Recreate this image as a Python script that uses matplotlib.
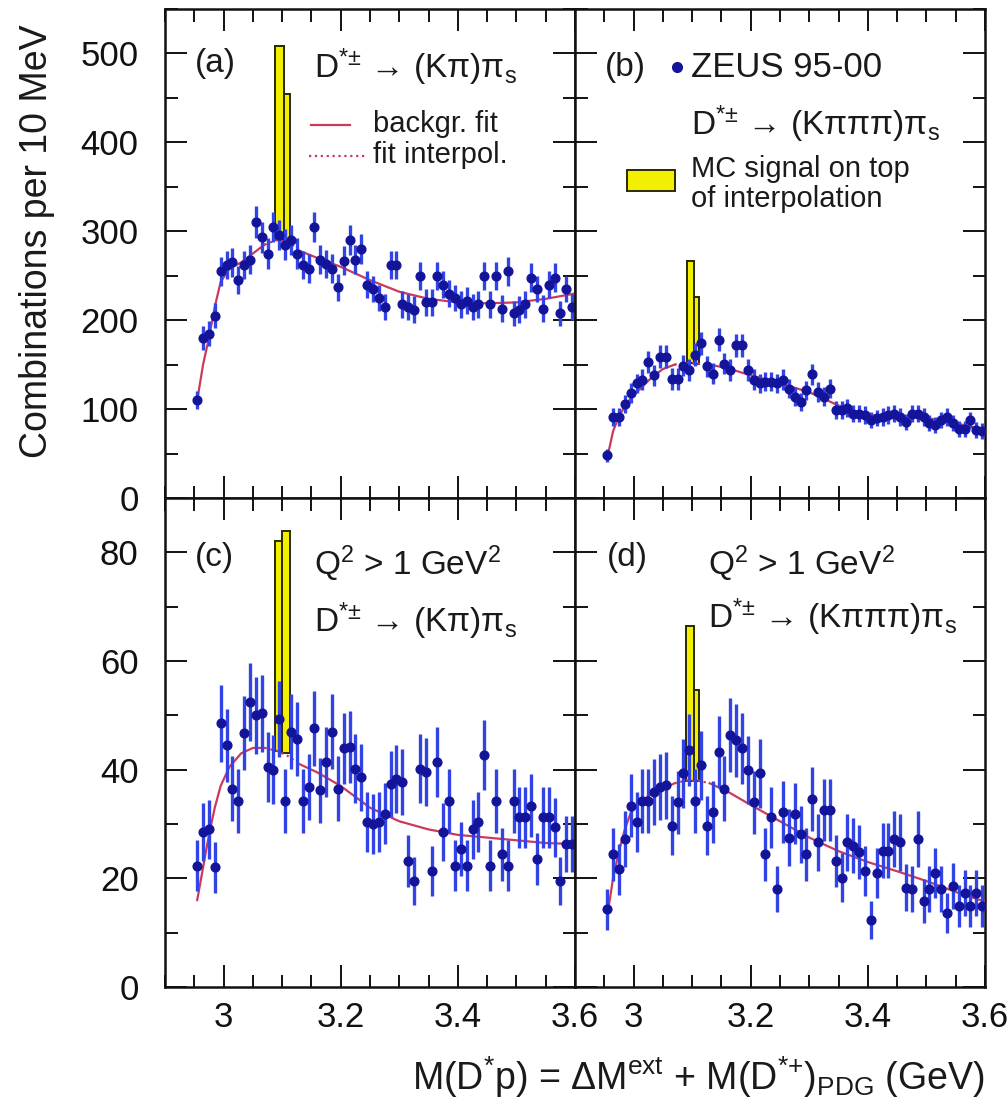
import numpy as np
import matplotlib
matplotlib.use("Agg")
import matplotlib.pyplot as plt
from matplotlib.ticker import MultipleLocator, FixedLocator, FixedFormatter
from matplotlib.patches import Rectangle
from matplotlib.lines import Line2D

plt.rcParams['font.family'] = ['Liberation Sans', 'DejaVu Sans']
plt.rcParams['mathtext.fontset'] = 'custom'
plt.rcParams['mathtext.rm'] = 'Liberation Sans'
plt.rcParams['mathtext.it'] = 'Liberation Sans:italic'
plt.rcParams['mathtext.bf'] = 'Liberation Sans:bold'

# ---------------- data ----------------
mass = np.round(np.arange(2.955, 3.6, 0.01), 3)   # bin centres (10 MeV bins)

val_a = [110,180,185,205,255,262,265,245,262,268, 310,293,275,305,296,285,290,275,262,258,
         305,268,263,258,237,267,290,268,280,240, 235,225,215,262,262,218,215,212,250,220,
         220,250,240,230,225,218,222,215,218,250, 218,250,213,255,208,212,218,248,235,213,
         240,248,208,235,215]
err_a = [10,13,14,14,16,16,16,16,16,16, 18,17,17,17,17,17,17,17,16,16,
         17,16,16,16,15,16,17,16,17,15, 15,15,15,16,16,15,15,15,16,15,
         15,16,15,15,15,15,15,15,15,16, 15,16,15,16,14,15,15,16,15,15,
         15,16,14,15,15]

val_b = [48,91,91,106,118,129,133,153,138,159, 159,134,134,149,144,161,174,148,140,178,
         151,144,172,172,144,133,129,131,131,129, 133,123,114,108,121,139,119,114,123,99,
         99,101,95,95,93,88,90,91,93,95, 91,86,95,95,91,84,82,88,91,84,
         78,78,88,76,75]
err_b = [7,10,10,10,11,11,12,12,12,13, 13,12,12,12,12,13,13,12,12,13,
         12,12,13,13,12,12,11,11,11,11, 12,11,11,10,11,12,11,11,11,10,
         10,10,10,10,10,9,9,10,10,10, 10,9,10,10,10,9,9,9,10,9,
         9,9,9,9,9]

val_c = [22.3,28.5,29,22,48.5,44.5,36.5,34.3,46.7,52.5, 50,50.4,40.5,40,49.4,34.3,47,45.7,34.3,36.8,
         47.6,36.2,41.4,47,36.5,43.9,44.2,40.2,38.6,30.3, 30,30.3,31.9,37.4,38.3,37.7,23.2,19.5,40.2,39.6,
         21.4,41.4,28.5,34.3,22.3,25.4,22.3,29,30.3,42.7, 22.3,34.3,24.4,22.3,34.3,31.2,31.2,33.4,23.5,31.2,
         31.2,29.4,19.5,26.3,26.3]
err_c = [4.7,5.3,5.4,4.7,7.0,6.7,6.0,5.9,6.8,7.2, 7.1,7.1,6.4,6.3,7.0,5.9,6.9,6.8,5.9,6.1,
         6.9,6.0,6.4,6.9,6.0,6.6,6.6,6.3,6.2,5.5, 5.5,5.5,5.6,6.1,6.2,6.1,4.8,4.4,6.3,6.3,
         4.6,6.4,5.3,5.9,4.7,5.0,4.7,5.4,5.5,6.5, 4.7,5.9,4.9,4.7,5.9,5.6,5.6,5.8,4.8,5.6,
         5.6,5.4,4.4,5.1,5.1]

val_d = [14.3,24.4,21.7,27.2,33.4,30.3,34.3,34.3,35.9,36.8, 37.1,29.7,34,39.3,43.6,34.3,40.8,29.7,32.2,43.3,
         36.5,46.4,45.4,43.9,39.9,34,39.3,24.4,31.2,18, 32.2,27.5,31.9,28.1,24.4,34.6,26.6,32.5,32.5,23.2,
         20.1,26.6,26,24.8,21.4,12.4,21,25.1,25.1,27.2, 26.6,18.3,18,27.2,15.8,18,21,18,13.6,18.6,
         14.9,17.3,14.9,17.3,14.9]
err_d = [3.8,4.9,4.7,5.2,5.8,5.5,5.9,5.9,6.0,6.1, 6.1,5.4,5.8,6.3,6.6,5.9,6.4,5.4,5.7,6.6,
         6.0,6.8,6.7,6.6,6.3,5.8,6.3,4.9,5.6,4.2, 5.7,5.2,5.6,5.3,4.9,5.9,5.2,5.7,5.7,4.8,
         4.5,5.2,5.1,5.0,4.6,3.5,4.6,5.0,5.0,5.2, 5.2,4.3,4.2,5.2,4.0,4.2,4.6,4.2,3.7,4.3,
         3.9,4.2,3.9,4.2,3.9]

# background fit curves (read at nodes)
fit_x = [2.955,2.965,2.975,2.985,2.995,3.01,3.03,3.05,3.07,3.09,3.11,3.13,3.16,3.2,
         3.25,3.3,3.35,3.4,3.45,3.5,3.55,3.6]
fit_a = [110,150,180,215,243,258,265,275,285,290,288,278,270,260,245,232,224,220,219,220,224,230]
fit_b = [45,75,92,103,112,122,135,145,150,152,151,150,146,138,129,119,104,93,93,90,84,77]
fit_c = [16,22,28,33,37,40.5,43,44,44,43.5,42.5,41,39.5,37,33,30.5,29,28,27.5,27,26.5,26.3]
fit_d = [13,20,25,29,32,34,35.5,36.5,37.5,38,38,37.5,36,33.5,30.5,27.5,25,23,21.3,19.5,17.5,15.7]
interp_lo, interp_hi = 3.07, 3.13   # fit interpolation region

# MC signal histograms on top of interpolation
mc_edges_a = [3.088, 3.103, 3.113]; mc_top_a = [508, 454];   mc_base_a = [290, 289]
mc_edges_b = [3.091, 3.103, 3.111]; mc_top_b = [267, 226];   mc_base_b = [152, 151]
mc_edges_c = [3.088, 3.100, 3.113]; mc_top_c = [82, 84];     mc_base_c = [43.5, 43]
mc_edges_d = [3.089, 3.103, 3.111]; mc_top_d = [66.5, 54.6]; mc_base_d = [38, 38]

panels = [
    dict(val=val_a, err=err_a, fit=fit_a, mce=mc_edges_a, mct=mc_top_a, mcb=mc_base_a),
    dict(val=val_b, err=err_b, fit=fit_b, mce=mc_edges_b, mct=mc_top_b, mcb=mc_base_b),
    dict(val=val_c, err=err_c, fit=fit_c, mce=mc_edges_c, mct=mc_top_c, mcb=mc_base_c),
    dict(val=val_d, err=err_d, fit=fit_d, mce=mc_edges_d, mct=mc_top_d, mcb=mc_base_d),
]

# ---------------- figure ----------------
fig = plt.figure(figsize=(10.08, 11.06), dpi=100)
L, R = 165/1008, 985/1008
W = (R - L) / 2
B, T, M = 1 - 987/1106, 1 - 9/1106, 1 - 498/1106
H = T - M
rects = [(L, M, W, H), (L + W, M, W, H), (L, B, W, M - B), (L + W, B, W, M - B)]

fit_col = '#cc3a5a'
pt_col = '#14149a'
err_col = '#3344e6'
yellow = '#f2f000'

axes = []
for i, (rect, p) in enumerate(zip(rects, panels)):
    ax = fig.add_axes(rect)
    axes.append(ax)
    top = i < 2
    # MC signal
    edges = np.array(p['mce'])
    widths = np.diff(edges)
    ax.bar(edges[:-1], np.array(p['mct']) - np.array(p['mcb']), width=widths,
           bottom=p['mcb'], align='edge', facecolor=yellow, edgecolor='#2a2a00',
           linewidth=1.4, zorder=2)
    # fit curve
    fx = np.array(fit_x); fy = np.array(p['fit'])
    m1 = fx <= interp_lo; m2 = (fx >= interp_lo) & (fx <= interp_hi); m3 = fx >= interp_hi
    ax.plot(fx[m1], fy[m1], color=fit_col, lw=1.6, zorder=3)
    ax.plot(fx[m2], fy[m2], color=fit_col, lw=1.6, ls=':', zorder=3)
    ax.plot(fx[m3], fy[m3], color=fit_col, lw=1.6, zorder=3)
    # data
    ax.errorbar(mass, p['val'], yerr=p['err'], fmt='o', ms=6.3, mfc=pt_col, mec=pt_col,
                ecolor=err_col, elinewidth=2.4, capsize=0, zorder=4)

    ax.set_xlim(2.9, 3.6)
    if top:
        ax.set_ylim(0, 550)
        ax.yaxis.set_major_locator(MultipleLocator(100))
        ax.yaxis.set_minor_locator(MultipleLocator(50))
    else:
        ax.set_ylim(0, 90)
        ax.yaxis.set_major_locator(FixedLocator([0, 20, 40, 60, 80]))
        ax.yaxis.set_minor_locator(MultipleLocator(10))
    ax.xaxis.set_major_locator(FixedLocator([3.0, 3.2, 3.4, 3.6]))
    ax.xaxis.set_minor_locator(MultipleLocator(0.05))
    ax.xaxis.set_major_formatter(FixedFormatter(['3', '3.2', '3.4', '3.6']))
    ax.tick_params(which='both', direction='in', top=True, right=True, width=1.4,
                   labelsize=25, colors='#111111')
    ax.tick_params(which='major', length=16)
    ax.tick_params(axis='x', which='major', pad=10)
    ax.tick_params(axis='y', which='major', pad=19)
    ax.tick_params(which='minor', length=9)
    if top:
        ax.tick_params(labelbottom=False)
    if i % 2 == 1:
        ax.tick_params(labelleft=False)
    for s in ax.spines.values():
        s.set_linewidth(1.8)
        s.set_color('#111111')

txt = dict(fontsize=24, color='#1a1a1a', ha='left', va='center')
dkpi = 'D$^{*{\\pm}}$ \u2192 (K\u03c0)\u03c0$_{\\rm s}$'
dk3pi = 'D$^{*{\\pm}}$ \u2192 (K\u03c0\u03c0\u03c0)\u03c0$_{\\rm s}$'
q2 = 'Q$^2$ > 1 GeV$^2$'
small = dict(fontsize=21, color='#1a1a1a', ha='left', va='center')

a, b, c, d = axes
a.text(0.074, 0.889, '(a)', transform=a.transAxes, **txt)
a.text(0.363, 0.881, dkpi, transform=a.transAxes, **txt)
a.add_line(Line2D([0.355, 0.45], [0.763, 0.763], transform=a.transAxes, color=fit_col, lw=1.6))
a.add_line(Line2D([0.35, 0.49], [0.700, 0.700], transform=a.transAxes, color=fit_col, lw=1.6, ls=':'))
a.text(0.507, 0.765, 'backgr. fit', transform=a.transAxes, **small)
a.text(0.507, 0.702, 'fit interpol.', transform=a.transAxes, **small)

b.text(0.073, 0.881, '(b)', transform=b.transAxes, **txt)
b.plot([0.248], [0.881], 'o', ms=7, color=pt_col, transform=b.transAxes, clip_on=False)
b.text(0.284, 0.881, 'ZEUS 95-00', transform=b.transAxes, fontsize=25, color='#1a1a1a',
       ha='left', va='center')
b.text(0.284, 0.765, dk3pi, transform=b.transAxes, **txt)
b.add_patch(Rectangle((0.126, 0.627), 0.117, 0.044, transform=b.transAxes,
                      facecolor=yellow, edgecolor='#2a2a00', lw=1.4))
b.text(0.284, 0.673, 'MC signal on top', transform=b.transAxes, **small)
b.text(0.284, 0.612, 'of interpolation', transform=b.transAxes, **small)

c.text(0.074, 0.879, '(c)', transform=c.transAxes, **txt)
c.text(0.363, 0.866, q2, transform=c.transAxes, **txt)
c.text(0.363, 0.747, dkpi, transform=c.transAxes, **txt)

d.text(0.078, 0.879, '(d)', transform=d.transAxes, **txt)
d.text(0.325, 0.866, q2, transform=d.transAxes, **txt)
d.text(0.325, 0.757, dk3pi, transform=d.transAxes, **txt)

fig.text(37/1008, 1 - 241/1106, 'Combinations per 10 MeV', rotation=90, fontsize=27,
         ha='center', va='center', color='#1a1a1a')
fig.text(985/1008, 1 - 1077/1106,
         'M(D$^{*}$p) = $\\Delta$M$^{\\rm ext}$ + M(D$^{*{+}}$)$_{\\rm PDG}$ (GeV)',
         fontsize=27, ha='right', va='center', color='#1a1a1a')

fig.savefig('out.png', dpi=100)
